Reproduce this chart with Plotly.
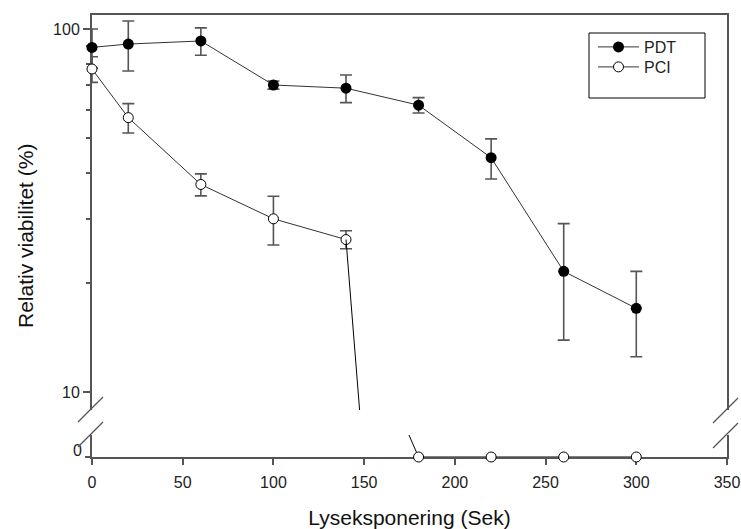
import math
import plotly.graph_objects as go

# ---------------- data ----------------
x_sec = [0, 20, 60, 100, 140, 180, 220, 260, 300]
pdt = [89.0, 90.9, 92.7, 70.1, 68.7, 61.7, 44.2, 21.5, 17.0]
pdt_err = [11.0, 14.3, 8.0, 1.8, 6.0, 3.0, 5.6, 7.6, 4.5]
pci = [77.6, 57.0, 37.3, 30.0, 26.3, 0, 0, 0, 0]
pci_err = [6.3, 5.3, 2.6, 4.6, 1.5, 0, 0, 0, 0]

x_tickvals = [0, 50, 100, 150, 200, 250, 300, 350]
y_major = [10, 100]
y_minor = [20, 30, 40, 50, 60, 70, 80, 90]
y_low_ticks = [0]

# ---------------- layout constants ----------------
W, H = 741, 529
ML, MR, MT, MB = 92, 14, 15, 72
PH = H - MT - MB
AXIS_PX = 457          # pixel row of x axis
UP_BOTTOM_PX = 410     # bottom of upper (log) panel
LOW_TOP_PX = 435       # top of lower (zero) panel
up_dom = [(AXIS_PX - UP_BOTTOM_PX) / PH, 1.0]
low_dom = [0.0, (AXIS_PX - LOW_TOP_PX) / PH]
L0, L1 = 0.9504, 2.0386   # log10 range of upper panel

AX_COL = "#555555"
LINE_COL = "#333333"
ERR_COL = "#555555"
FONT = "Liberation Sans, Arial, sans-serif"

# connector between last positive PCI point and first zero point
k = max(i for i, v in enumerate(pci) if v > 0)
cx = [x_sec[k], x_sec[k + 1]]
cy = [pci[k], pci[k + 1]]


def on_line(xx):
    return cy[0] + (cy[1] - cy[0]) * (xx - cx[0]) / (cx[1] - cx[0])


UPPER_EXIT_X = 147.5
LOWER_ENTRY_X = 174.7
a3 = on_line(UPPER_EXIT_X)
frac = (math.log10(cy[0]) - L0) / (L1 - L0)
b3 = a3 + (cy[0] - a3) / frac
low_top = on_line(LOWER_ENTRY_X)

pos_idx = [i for i, v in enumerate(pci) if v > 0]
zero_idx = [i for i, v in enumerate(pci) if v == 0]

fig = go.Figure()

fig.add_trace(go.Scatter(
    x=x_sec, y=pdt, name="PDT", mode="lines+markers",
    xaxis="x2", yaxis="y", cliponaxis=False, legend="legend",
    line=dict(color=LINE_COL, width=1),
    marker=dict(symbol="circle", size=11, color="black", line=dict(width=0)),
    error_y=dict(type="data", array=pdt_err, visible=True, color=ERR_COL,
                 thickness=1.6, width=6),
))

fig.add_trace(go.Scatter(
    x=[x_sec[i] for i in pos_idx], y=[pci[i] for i in pos_idx],
    name="PCI", mode="lines+markers",
    xaxis="x2", yaxis="y", cliponaxis=False, legend="legend2",
    line=dict(color=LINE_COL, width=1),
    marker=dict(symbol="circle", size=10, color="white",
                line=dict(color="black", width=1)),
    error_y=dict(type="data", array=[pci_err[i] for i in pos_idx], visible=True,
                 color=ERR_COL, thickness=1.6, width=6),
))

# upper part of the drop line (clipped at the break)
fig.add_trace(go.Scatter(
    x=cx, y=cy, mode="lines", xaxis="x2", yaxis="y3", showlegend=False,
    line=dict(color="black", width=1), hoverinfo="skip",
))

# lower panel: drop line + zero points
fig.add_trace(go.Scatter(
    x=x_sec[k:], y=pci[k:], mode="lines", xaxis="x", yaxis="y2",
    showlegend=False, line=dict(color="black", width=1), hoverinfo="skip",
))
fig.add_trace(go.Scatter(
    x=[x_sec[i] for i in zero_idx], y=[pci[i] for i in zero_idx],
    mode="markers", xaxis="x", yaxis="y2", showlegend=False, cliponaxis=False,
    marker=dict(symbol="circle", size=10, color="white",
                line=dict(color="black", width=1)),
))

common_axis = dict(showgrid=False, zeroline=False, showline=True, automargin=False,
                   linecolor=AX_COL, linewidth=2, layer="below traces",
                   tickcolor=AX_COL, tickfont=dict(family=FONT, size=16, color="#222222"))

legend_common = dict(xanchor="left", yanchor="top", bgcolor="rgba(0,0,0,0)",
                     borderwidth=0, font=dict(family=FONT, size=16, color="#222222"),
                     tracegroupgap=0, itemwidth=41)

fig.update_layout(
    width=W, height=H, autosize=False,
    margin=dict(l=ML, r=MR, t=MT, b=MB, pad=0, autoexpand=False),
    paper_bgcolor="white", plot_bgcolor="white",
    font=dict(family=FONT, size=16, color="#222222"),
    xaxis=dict(**common_axis, domain=[0, 1], anchor="y2", range=[0, 350],
               tickmode="array", tickvals=x_tickvals, ticks="outside",
               ticklen=6, tickwidth=1.5, ticklabelstandoff=4,
               title=dict(text="Lyseksponering (Sek)", font=dict(family=FONT, size=21, color="#111111"),
                          standoff=24)),
    xaxis2=dict(**common_axis, domain=[0, 1], anchor="y", side="top",
                matches="x", range=[0, 350], ticks="", showticklabels=False),
    yaxis=dict(**common_axis, domain=up_dom, anchor="x2", type="log",
               range=[L0, L1], mirror=True,
               tickmode="array", tickvals=y_major, ticktext=[str(v) for v in y_major],
               ticks="outside", ticklen=7, tickwidth=1.5,
               minor=dict(tickmode="array", tickvals=y_minor, ticks="outside",
                          ticklen=4, tickwidth=1.5, tickcolor=AX_COL, showgrid=False)),
    yaxis2=dict(**common_axis, domain=low_dom, anchor="x", range=[0, low_top],
                mirror=True, tickmode="array", tickvals=y_low_ticks,
                ticktext=[str(v) for v in y_low_ticks],
                ticks="outside", ticklen=5, tickwidth=1.5, ticklabelshift=-7),
    yaxis3=dict(overlaying="y", anchor="x2", range=[a3, b3], visible=False,
                showgrid=False, zeroline=False),
    showlegend=True,
    legend=dict(**legend_common, x=(593 - ML) / (W - ML - MR), y=(AXIS_PX - 30) / PH),
    legend2=dict(**legend_common, x=(593 - ML) / (W - ML - MR), y=(AXIS_PX - 50) / PH),
    annotations=[dict(text="Relativ viabilitet (%)", textangle=-90,
                      xref="paper", yref="paper",
                      x=(25 - ML) / (W - ML - MR), y=0.5,
                      xanchor="center", yanchor="middle", showarrow=False,
                      font=dict(family=FONT, size=21, color="#111111"))],
)


def px2paper(px, py):
    return (px - ML) / (W - ML - MR), (AXIS_PX - py) / PH


shapes = []
# legend frame
lx0, ly0 = px2paper(589, 33)
lx1, ly1 = px2paper(705, 98)
shapes.append(dict(type="rect", xref="paper", yref="paper", x0=lx0, y0=ly1, x1=lx1, y1=ly0,
                   line=dict(color="black", width=1), fillcolor="rgba(0,0,0,0)"))
# axis break marks
for (p0, p1) in [((78, 422), (103, 397)), ((78, 447), (103, 422)),
                 ((713, 423), (738, 398)), ((713, 448), (738, 423))]:
    x0, y0 = px2paper(*p0)
    x1, y1 = px2paper(*p1)
    shapes.append(dict(type="line", xref="paper", yref="paper", x0=x0, y0=y0, x1=x1, y1=y1,
                       line=dict(color=AX_COL, width=1.3)))
fig.update_layout(shapes=shapes)

fig.write_html("out.html", config={"responsive": False, "displayModeBar": False},
               post_script="document.body.style.margin='0';document.body.style.overflow='hidden';")
